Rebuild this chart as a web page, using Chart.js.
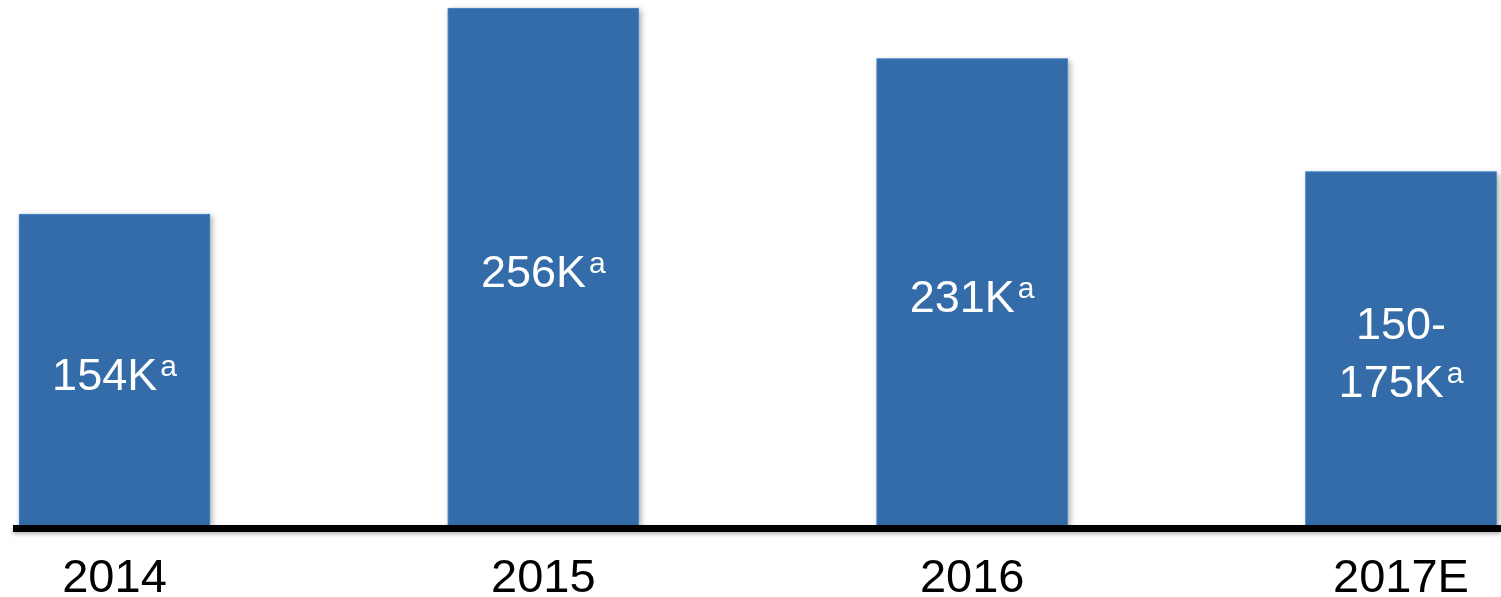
<!DOCTYPE html>
<html>
<head>
<meta charset="utf-8">
<script src="https://cdn.jsdelivr.net/npm/chart.js@4/dist/chart.umd.min.js"></script>
<style>
  html, body { margin: 0; padding: 0; background: #fff; overflow: hidden; }
  #wrap { width: 1501px; height: 597px; position: relative; }
</style>
</head>
<body>
<div id="wrap"><canvas id="c"></canvas></div>
<script>
// Yearly totals, in thousands
const years = ['2014', '2015', '2016', '2017E'];
const totals = [154, 256, 231, 175];
// Text printed inside each bar (2017E is an estimated range; bar drawn at its upper end)
const valueLabels = [['154K'], ['256K'], ['231K'], ['150-', '175K']];
const footnoteMark = 'a';

const FONT = '"Liberation Sans", Arial, Helvetica, sans-serif';

// Soft drop shadow under every bar, painted before the bars themselves
const barShadows = {
  id: 'barShadows',
  beforeDatasetsDraw(chart) {
    const ctx = chart.ctx;
    ctx.save();
    ctx.shadowColor = 'rgba(0,0,0,0.35)';
    ctx.shadowBlur = 6;
    ctx.shadowOffsetX = 2;
    ctx.shadowOffsetY = 2;
    ctx.fillStyle = '#336ca8';
    chart.getDatasetMeta(0).data.forEach(bar => {
      const half = bar.width / 2;
      ctx.fillRect(bar.x - half, bar.y, bar.width, bar.base - bar.y);
    });
    ctx.restore();
  }
};

// Thick black baseline under the bars
const baseLine = {
  id: 'baseLine',
  afterDatasetsDraw(chart, args, opts) {
    const ctx = chart.ctx;
    const y = chart.chartArea.bottom + opts.width / 2;
    ctx.save();
    ctx.shadowColor = 'rgba(0,0,0,0.3)';
    ctx.shadowBlur = 4;
    ctx.shadowOffsetY = 2;
    ctx.strokeStyle = '#000';
    ctx.lineWidth = opts.width;
    ctx.beginPath();
    ctx.moveTo(opts.start, y);
    ctx.lineTo(chart.width, y);
    ctx.stroke();
    ctx.restore();
  }
};

// White value labels centred in each bar, with a superscript footnote mark
const barLabels = {
  id: 'barLabels',
  afterDatasetsDraw(chart, args, opts) {
    const ctx = chart.ctx;
    const size = opts.size, supSize = opts.supSize, lineH = opts.lineHeight;
    const main = `${size}px ${FONT}`;
    const sup = `${supSize}px ${FONT}`;
    const cap = size * 0.716;
    ctx.save();
    ctx.fillStyle = '#ffffff';
    ctx.textAlign = 'left';
    ctx.textBaseline = 'alphabetic';
    chart.getDatasetMeta(0).data.forEach((bar, i) => {
      const lines = valueLabels[i];
      const mid = (bar.y + bar.base) / 2 + opts.shift;
      const first = mid - (lines.length - 1) * lineH / 2 + cap / 2;
      lines.forEach((t, j) => {
        const last = j === lines.length - 1;
        ctx.font = main;
        const w = ctx.measureText(t).width;
        let sw = 0;
        if (last) {
          ctx.font = sup;
          sw = ctx.measureText(footnoteMark).width + opts.gap;
        }
        const x0 = bar.x - (w + sw) / 2;
        const yb = first + j * lineH;
        ctx.font = main;
        ctx.fillText(t, x0, yb);
        if (last) {
          ctx.font = sup;
          ctx.fillText(footnoteMark, x0 + w + opts.gap, yb - opts.raise);
        }
      });
    });
    ctx.restore();
  }
};

new Chart(document.getElementById('c'), {
  type: 'bar',
  data: {
    labels: years,
    datasets: [{
      data: totals,
      backgroundColor: '#336ca8',
      borderColor: '#4a88cc',
      borderWidth: 1,
      barThickness: 191,
      clip: false
    }]
  },
  options: {
    responsive: true,
    maintainAspectRatio: false,
    animation: false,
    devicePixelRatio: 1,
    layout: { padding: { left: 114.5, right: 100, top: 0, bottom: 0 } },
    plugins: {
      legend: { display: false },
      tooltip: { enabled: false },
      baseLine: { width: 7, start: 13 },
      barLabels: { size: 45, supSize: 30, lineHeight: 58, raise: 14, shift: 4, gap: 3 }
    },
    scales: {
      x: {
        type: 'category',
        offset: false,
        grid: { display: false, drawTicks: false },
        border: { display: false },
        ticks: {
          color: '#000',
          font: { family: FONT, size: 47 },
          padding: 26,
          maxRotation: 0,
          autoSkip: false
        },
        afterFit(scale) { scale.height = 72; }
      },
      y: { display: false, min: 0, max: 260 }
    }
  },
  plugins: [barShadows, baseLine, barLabels]
});
</script>
</body>
</html>
